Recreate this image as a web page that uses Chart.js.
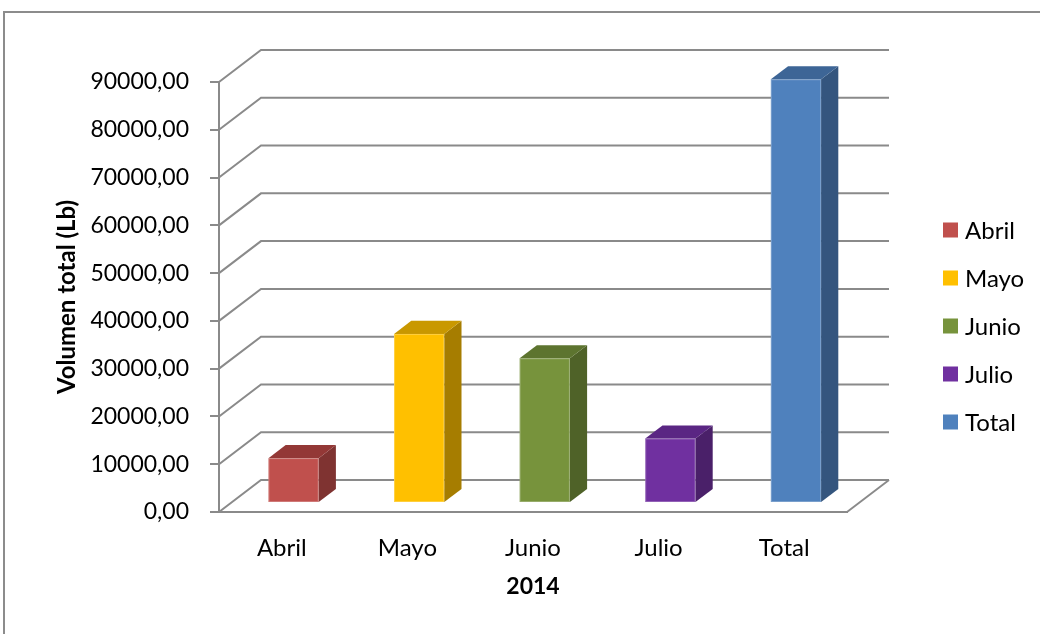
<!DOCTYPE html>
<html>
<head>
<meta charset="utf-8">
<title>Volumen total 2014</title>
<script src="https://cdn.jsdelivr.net/npm/chart.js@4/dist/chart.umd.min.js"></script>
<style>
  html, body { margin: 0; padding: 0; background: #ffffff; }
  #c { display: block; }
</style>
</head>
<body>
<canvas id="c" width="1040" height="634"></canvas>
<script>
// Monthly volume (lb) for 2014 plus the total
const categories = ['Abril', 'Mayo', 'Junio', 'Julio', 'Total'];
const volumes = [9400, 35400, 30300, 13500, 88700];

// Value axis range
const yMax = 90000;
const yStep = 10000;

// Face colours for each box: front, right side, top
const frontColors = ['#C0504D', '#FFC000', '#77933C', '#7030A0', '#4F81BD'];
const sideColors  = ['#7F3331', '#A67D00', '#4F6228', '#4A2069', '#34557E'];
const topColors   = ['#933836', '#C99800', '#5D742F', '#5A2683', '#3D6596'];

// 3D geometry: how far the back wall sits from the front plane,
// and which slice of that depth the boxes occupy.
const WALL_DX = 42;
const WALL_DY = -32;
const BAR_FRONT = 0.28;
const BAR_BACK = 0.69;

const LINE = '#8a8a8a';
const FONT = 'Lato, "Open Sans", sans-serif';

function fillPoly(ctx, pts, color) {
  ctx.beginPath();
  ctx.moveTo(pts[0][0], pts[0][1]);
  for (let i = 1; i < pts.length; i++) ctx.lineTo(pts[i][0], pts[i][1]);
  ctx.closePath();
  ctx.fillStyle = color;
  ctx.fill();
}

// Outer chart frame
const framePlugin = {
  id: 'frame',
  beforeDraw(chart) {
    const ctx = chart.ctx;
    ctx.save();
    ctx.strokeStyle = '#8c8c8c';
    ctx.lineWidth = 2;
    ctx.strokeRect(4, 12, 1200, 800);
    ctx.restore();
  }
};

// Side wall + back wall gridlines and the floor's right edge
const wallsPlugin = {
  id: 'walls',
  beforeDatasetsDraw(chart) {
    const { ctx, chartArea: { left, right, bottom }, scales: { y } } = chart;
    ctx.save();
    ctx.strokeStyle = LINE;
    ctx.lineWidth = 2;
    ctx.lineJoin = 'miter';
    y.ticks.forEach(t => {
      const py = y.getPixelForValue(t.value);
      ctx.beginPath();
      ctx.moveTo(left, py);
      ctx.lineTo(left + WALL_DX, py + WALL_DY);
      ctx.lineTo(right + WALL_DX, py + WALL_DY);
      ctx.stroke();
    });
    ctx.beginPath();
    ctx.moveTo(right, bottom);
    ctx.lineTo(right + WALL_DX, bottom + WALL_DY);
    ctx.stroke();
    ctx.restore();
  }
};

// Boxes drawn from the bar elements laid out by the scales
const boxesPlugin = {
  id: 'boxes',
  beforeDatasetDraw() { return false; },
  afterDatasetsDraw(chart) {
    const ctx = chart.ctx;
    const meta = chart.getDatasetMeta(0);
    const fx = WALL_DX * BAR_FRONT, fy = WALL_DY * BAR_FRONT;
    const dx = WALL_DX * (BAR_BACK - BAR_FRONT), dy = WALL_DY * (BAR_BACK - BAR_FRONT);
    ctx.save();
    meta.data.forEach((bar, i) => {
      const { x, y, base, width } = bar.getProps(['x', 'y', 'base', 'width'], true);
      const L = x - width / 2 + fx, R = x + width / 2 + fx;
      const T = y + fy, B = base + fy;
      fillPoly(ctx, [[L, T], [R, T], [R, B], [L, B]], frontColors[i]);
      fillPoly(ctx, [[R, T], [R + dx, T + dy], [R + dx, B + dy], [R, B]], sideColors[i]);
      fillPoly(ctx, [[L, T], [L + dx, T + dy], [R + dx, T + dy], [R, T]], topColors[i]);
      ctx.strokeStyle = 'rgba(255,255,255,0.25)';
      ctx.lineWidth = 1;
      ctx.strokeRect(L + 0.5, T + 0.5, R - L - 1, B - T - 1);
    });
    ctx.restore();
  }
};

// Legend listing each category with its colour
const legendPlugin = {
  id: 'sideLegend',
  afterDraw(chart) {
    const ctx = chart.ctx;
    ctx.save();
    ctx.font = '24px ' + FONT;
    ctx.textBaseline = 'middle';
    ctx.textAlign = 'left';
    categories.forEach((name, i) => {
      const cy = 230 + i * 48;
      ctx.fillStyle = frontColors[i];
      ctx.fillRect(943, cy - 7.5, 15, 15);
      ctx.fillStyle = '#000';
      ctx.fillText(name, 965, cy + 1);
    });
    ctx.restore();
  }
};

const fmt = v => Number(v).toFixed(2).replace('.', ',');

new Chart(document.getElementById('c'), {
  type: 'bar',
  data: {
    labels: categories,
    datasets: [{
      label: '2014',
      data: volumes,
      backgroundColor: frontColors,
      barPercentage: 0.4,
      categoryPercentage: 1.0
    }]
  },
  options: {
    responsive: false,
    animation: false,
    devicePixelRatio: 1,
    layout: { padding: { left: 0, top: 82, right: 193, bottom: 22 } },
    plugins: {
      legend: { display: false },
      tooltip: { enabled: false }
    },
    scales: {
      x: {
        offset: true,
        grid: { display: false },
        border: { display: true, color: LINE, width: 2 },
        ticks: { color: '#000', font: { family: FONT, size: 24 }, padding: 14 },
        title: {
          display: true, text: '2014', color: '#000',
          font: { family: FONT, size: 23, weight: 'bold' },
          padding: { top: 0, bottom: 12 }
        },
        afterFit(s) { s.height = 100; }
      },
      y: {
        min: 0, max: yMax,
        ticks: { stepSize: yStep, color: '#000', font: { family: FONT, size: 23 }, padding: 21, callback: fmt },
        grid: { display: true, drawOnChartArea: false, drawTicks: true, tickLength: 9, color: LINE, lineWidth: 2 },
        border: { display: true, color: LINE, width: 2 },
        title: {
          display: true, text: 'Volumen total (Lb)', color: '#000',
          font: { family: FONT, size: 24, weight: 'bold' },
          padding: { top: 53, bottom: 0 }
        },
        afterFit(s) { s.width = 219; }
      }
    }
  },
  plugins: [framePlugin, wallsPlugin, boxesPlugin, legendPlugin]
});
</script>
</body>
</html>
